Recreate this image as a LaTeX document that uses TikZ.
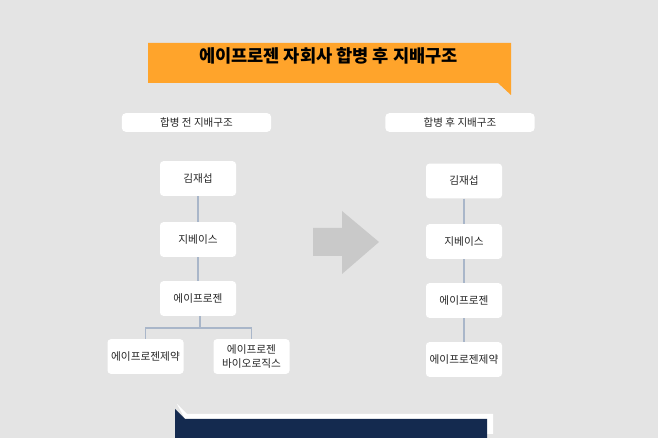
\documentclass[tikz,border=0pt]{standalone}
\usepackage{fontspec}
\setmainfont{Noto Sans CJK KR}
\definecolor{bggray}{HTML}{E4E4E4}
\definecolor{banner}{HTML}{FFA42B}
\definecolor{linkline}{HTML}{A9B6C9}
\definecolor{arrowgray}{HTML}{C9C9C9}
\definecolor{navy}{HTML}{142A4F}
\definecolor{boxtext}{HTML}{262626}
\tikzset{
  orgbox/.style={fill=white, rounded corners=2.5pt, minimum width=57pt, minimum height=26pt,
    inner sep=0pt, align=center, text=boxtext, font=\fontsize{8}{10}\selectfont},
  headbox/.style={fill=white, rounded corners=3pt, minimum width=112pt, minimum height=14pt,
    inner sep=0pt, text=boxtext, font=\fontsize{7.9}{9}\selectfont},
  link/.style={draw=linkline, line width=1.1pt}
}
\begin{document}
\begin{tikzpicture}[x=0.75pt, y=-0.75pt]
  \fill[bggray] (0,0) rectangle (658,438);
  \useasboundingbox (0,0) rectangle (658,438);
  \fill[banner] (148,43) -- (511,43) -- (511,95) -- (498,83) -- (148,83) -- cycle;
  \node[font=\fontsize{13.2}{16}\selectfont\bfseries] (title) at (328.5,56) {에이프로젠 자회사 합병 후 지배구조};
  \node[headbox] (before) at (196.5,122.5) {합병 전 지배구조};
  \node[headbox] (after) at (460,122.5) {합병 후 지배구조};
  \node[orgbox] (kim1) at (198,178.5) {김재섭};
  \node[orgbox] (gbase1) at (198,239.5) {지베이스};
  \node[orgbox] (aprogen1) at (198,298.5) {에이프로젠};
  \node[orgbox] (pharm1) at (145.5,356.5) {에이프로젠제약};
  \node[orgbox] (bio1) at (251.5,356.5) {에이프로젠\\바이오로직스};
  \coordinate (split) at (200,328);
  \draw[link] (kim1) -- (gbase1);
  \draw[link] (gbase1) -- (aprogen1);
  \draw[link] (aprogen1.south -| split) -- (split);
  \draw[link] (pharm1.north) |- (split) -| (bio1.north);
  \fill[arrowgray] (313,228) -- (342,228) -- (342,211) -- (379,242) -- (342,274) -- (342,256) -- (313,256) -- cycle;
  \node[orgbox] (kim2) at (464,181) {김재섭};
  \node[orgbox] (gbase2) at (464,241.5) {지베이스};
  \node[orgbox] (aprogen2) at (464,300.5) {에이프로젠};
  \node[orgbox] (pharm2) at (464,359.5) {에이프로젠제약};
  \draw[link] (kim2) -- (gbase2);
  \draw[link] (gbase2) -- (aprogen2);
  \draw[link] (aprogen2) -- (pharm2);
  \fill[white] (177,404) -- (187,414) -- (493,414) -- (493,434) -- (487,434) -- (487,419) -- (185,419) -- cycle;
  \fill[navy] (175,409) -- (185,419) -- (487,419) -- (487,438) -- (175,438) -- cycle;
\end{tikzpicture}
\end{document}
